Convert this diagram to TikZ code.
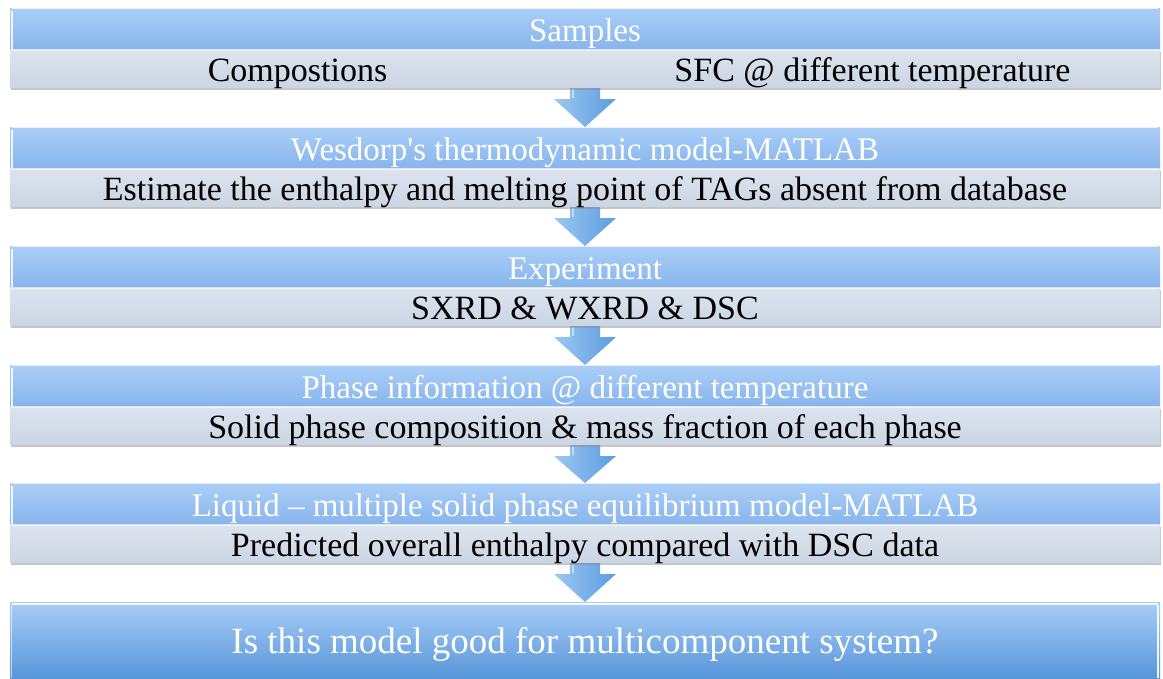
\documentclass[tikz,border=0pt]{standalone}
\usepackage{fontspec}
\setmainfont{Liberation Serif}
\newfontfamily\plainserif{Liberation Serif}
\usetikzlibrary{calc,shadows}
\pgfdeclarelayer{background}
\pgfsetlayers{background,main}
\definecolor{hdtop}{HTML}{AACEF7}
\definecolor{hdbot}{HTML}{88B5EC}
\definecolor{sbtop}{HTML}{DCE4EE}
\definecolor{sbbot}{HTML}{CBD6E4}
\definecolor{fntop}{HTML}{A8CDF7}
\definecolor{fnbot}{HTML}{5896DA}
\definecolor{arrL}{HTML}{9CC8F2}
\definecolor{arrR}{HTML}{5C9CDF}
\tikzset{
  hdr/.style={anchor=north west, minimum width=1150pt, minimum height=41pt, inner sep=0pt, outer sep=0pt,
    text height=25pt, text depth=0pt,
    top color=hdtop, bottom color=hdbot, text=white, font=\fontsize{33}{36}\selectfont},
  sub/.style={anchor=north west, minimum height=38pt, inner sep=0pt, outer sep=0pt,
    text height=26pt, text depth=0pt,
    top color=sbtop, bottom color=sbbot, text=black, font=\fontsize{34}{37}\selectfont,
    drop shadow={shadow xshift=1pt, shadow yshift=-3pt, fill=black!45, opacity=0.5}},
  fin/.style={anchor=north west, minimum width=1150pt, minimum height=76pt, inner sep=0pt, outer sep=0pt,
    text height=26pt, text depth=0pt,
    top color=fntop, bottom color=fnbot, text=white, font=\fontsize{37}{40}\selectfont},
  hilite/.style={draw=white, line width=2pt, opacity=0.85},
  edge/.style={draw=white, line width=1pt, opacity=0.7},
  blockarrow/.style={shading=axis, left color=arrL, right color=arrR, draw=none}
}
\newcommand{\blockarr}[2]{%
  \path[blockarrow] ($(#1)+(-15,-2)$) -- ($(#1)+(15,-2)$) -- ($(#1)+(15,12)$) -- ($(#1)+(31,12)$)
     -- (#2) -- ($(#1)+(-31,12)$) -- ($(#1)+(-15,12)$) -- cycle;
  \draw[white, opacity=0.5, line width=1.5pt] ($(#1)+(-12,2)$) -- ($(#1)+(-12,11)$);
}
\begin{document}
\begin{tikzpicture}[x=1pt,y=-1pt]
\useasboundingbox (0,0) rectangle (1163,678);
% Block 1
\node[hdr] (h1) at (10,8) {Samples};
\node[sub, minimum width=575pt] (s1a) at (h1.south west) {Compostions};
\node[sub, minimum width=575pt] (s1b) at (s1a.north east) {SFC @ different temperature};
% Block 2
\node[hdr] (h2) at (10,127) {Wesdorp{\plainserif'}s thermodynamic model-MATLAB};
\node[sub, minimum width=1150pt] (s2) at (h2.south west) {Estimate the enthalpy and melting point of TAGs absent from database};
% Block 3
\node[hdr] (h3) at (10,246) {Experiment};
\node[sub, minimum width=1150pt] (s3) at (h3.south west) {SXRD \& WXRD \& DSC};
% Block 4
\node[hdr] (h4) at (10,365) {Phase information @ different temperature};
\node[sub, minimum width=1150pt] (s4) at (h4.south west) {Solid phase composition \& mass fraction of each phase};
% Block 5
\node[hdr] (h5) at (10,483) {Liquid -- multiple solid phase equilibrium model-MATLAB};
\node[sub, minimum width=1150pt] (s5) at (h5.south west) {Predicted overall enthalpy compared with DSC data};
% Final
\node[fin] (f) at (10,602) {Is this model good for multicomponent system?};
% bevel highlights
\foreach \h in {h1,h2,h3,h4,h5}{
  \draw[hilite] ($(\h.north west)+(1.5,3)$) -- ($(\h.south west)+(1.5,0)$);
  \draw[edge] ($(\h.north west)+(2,0.5)$) -- ($(\h.north east)+(-2,0.5)$);
}
\foreach \s in {s1a,s1b,s2,s3,s4,s5}{
  \draw[edge] ($(\s.north west)+(1,1)$) -- ($(\s.north east)+(-1,1)$);
}
\draw[draw=white, line width=2.5pt, opacity=0.9] ($(f.north west)+(2,2)$) -- ($(f.north east)+(-2,2)$);
\draw[draw=white, line width=2pt, opacity=0.9] ($(f.north east)+(-2,3)$) -- ($(f.south east)+(-2,0)$);
\draw[draw=white, line width=1pt, opacity=0.6] ($(f.north west)+(1,3)$) -- ($(f.south west)+(1,0)$);
% arrows (behind the boxes)
\begin{pgfonlayer}{background}
\fill[white] (0,0) rectangle (1163,678);
\blockarr{s1a.south east}{h2.north}
\blockarr{s2.south}{h3.north}
\blockarr{s3.south}{h4.north}
\blockarr{s4.south}{h5.north}
\blockarr{s5.south}{f.north}
\end{pgfonlayer}
\end{tikzpicture}
\end{document}
